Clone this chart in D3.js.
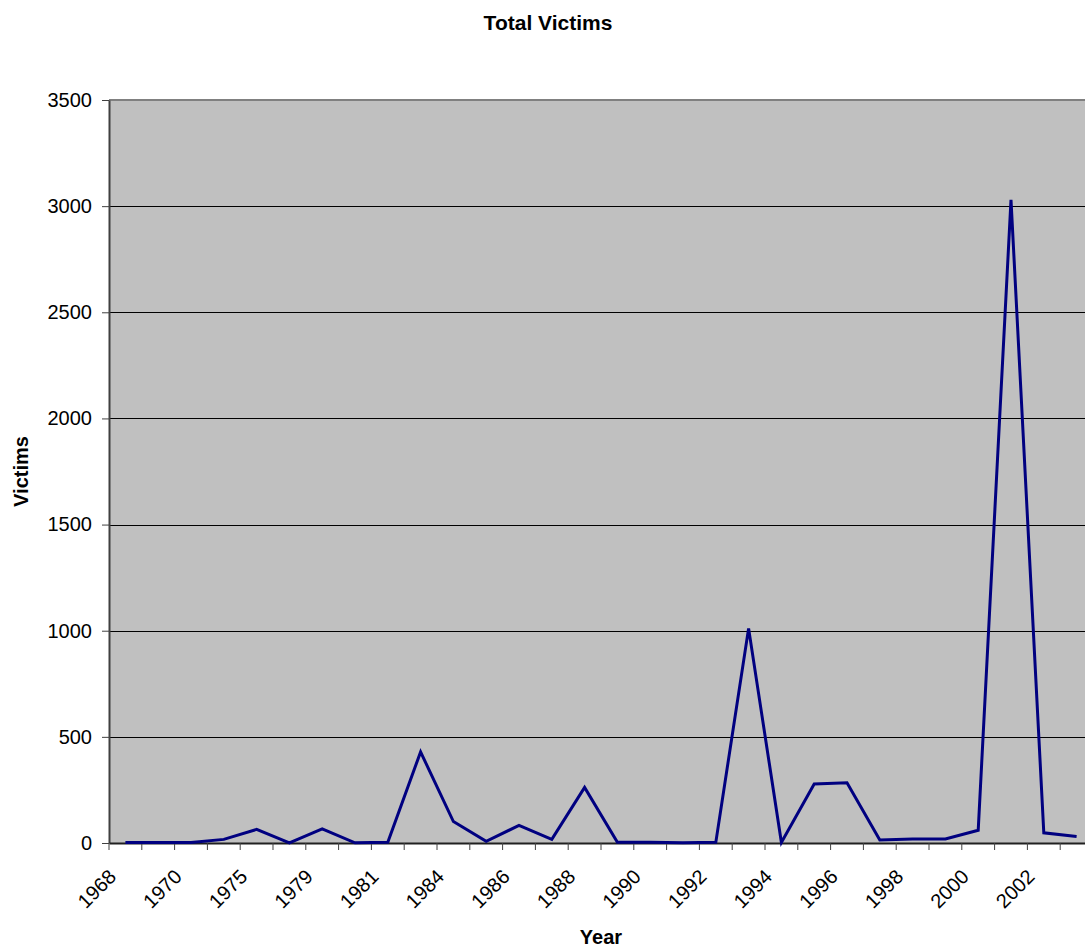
<!DOCTYPE html>
<html>
<head>
<meta charset="utf-8">
<script src="https://cdn.jsdelivr.net/npm/d3@7"></script>
<style>
  html, body { margin: 0; padding: 0; background: #fff; }
  svg { display: block; font-family: "Liberation Sans", Arial, sans-serif; }
</style>
</head>
<body>
<script>
// Years on the category axis
const years = [1968, 1969, 1970, 1973, 1975, 1977, 1979, 1980, 1981, 1983,
               1984, 1985, 1986, 1987, 1988, 1989, 1990, 1991, 1992, 1993,
               1994, 1995, 1996, 1997, 1998, 1999, 2000, 2001, 2002, 2003];
// Total victims per year
const victims = [2, 2, 2, 17, 64, 1, 67, 1, 4, 429,
                 101, 8, 83, 17, 262, 4, 3, 1, 3, 1011,
                 3, 278, 284, 14, 19, 19, 60, 3030, 48, 31];
// Value axis ticks
const yTicks = [0, 500, 1000, 1500, 2000, 2500, 3000, 3500];

const W = 1085, H = 947;
const plot = { left: 109, right: 1093, top: 100, bottom: 843 };

const svg = d3.select("body").append("svg")
  .attr("width", W).attr("height", H);

svg.append("rect").attr("width", W).attr("height", H).attr("fill", "#fff");

const x = d3.scaleBand().domain(years).range([plot.left, plot.right]).padding(0);
const y = d3.scaleLinear().domain([0, 3500]).range([plot.bottom, plot.top]);
const bw = x.bandwidth();

// Plot area
svg.append("rect")
  .attr("x", plot.left).attr("y", plot.top)
  .attr("width", plot.right - plot.left).attr("height", plot.bottom - plot.top)
  .attr("fill", "#c0c0c0");

// Horizontal gridlines
svg.append("g").selectAll("line")
  .data(yTicks.filter(d => d > 0 && d < 3500))
  .join("line")
  .attr("x1", plot.left).attr("x2", plot.right)
  .attr("y1", d => Math.round(y(d)) + 0.5).attr("y2", d => Math.round(y(d)) + 0.5)
  .attr("stroke", "#000").attr("stroke-width", 1);

// Top border of the plot area
svg.append("line")
  .attr("x1", plot.left).attr("x2", plot.right)
  .attr("y1", plot.top).attr("y2", plot.top)
  .attr("stroke", "#808080").attr("stroke-width", 2);

// Y axis
const yAxis = svg.append("g")
  .attr("transform", `translate(${plot.left},0)`)
  .call(d3.axisLeft(y).tickValues(yTicks).tickSize(7).tickSizeOuter(0).tickPadding(10).tickFormat(d3.format("d")));
yAxis.select(".domain").attr("stroke", "#404040").attr("stroke-width", 2);
yAxis.selectAll(".tick line").attr("stroke", "#404040").attr("stroke-width", 1);
yAxis.selectAll(".tick text").attr("font-size", 20).attr("fill", "#000")
  .attr("font-family", "Liberation Sans, Arial, sans-serif");

// X axis with ticks on category boundaries
const xAxis = svg.append("g")
  .attr("transform", `translate(0,${plot.bottom})`)
  .call(d3.axisBottom(x).tickSize(7).tickSizeOuter(0)
    .tickFormat((d, i) => i % 2 === 0 ? String(d) : ""));
xAxis.select(".domain").attr("stroke", "#202020").attr("stroke-width", 2);
xAxis.selectAll(".tick line")
  .attr("x1", -bw / 2).attr("x2", -bw / 2)
  .attr("stroke", "#404040").attr("stroke-width", 1);
xAxis.selectAll(".tick text")
  .attr("font-size", 20).attr("fill", "#000")
  .attr("font-family", "Liberation Sans, Arial, sans-serif")
  .attr("text-anchor", "end")
  .attr("dy", null)
  .attr("y", null)
  .attr("transform", "translate(-8,35) rotate(-45)");
xAxis.append("line")
  .attr("x1", plot.right).attr("x2", plot.right)
  .attr("y1", 0).attr("y2", 7)
  .attr("stroke", "#404040");

// Victims line
const line = d3.line()
  .x((d, i) => x(years[i]) + bw / 2)
  .y(d => y(d));
svg.append("path")
  .datum(victims)
  .attr("d", line)
  .attr("fill", "none")
  .attr("stroke", "#000080")
  .attr("stroke-width", 3)
  .attr("stroke-linejoin", "miter");

// Titles
svg.append("text")
  .attr("x", 548).attr("y", 30)
  .attr("text-anchor", "middle")
  .attr("font-size", 21).attr("font-weight", "bold")
  .text("Total Victims");

svg.append("text")
  .attr("x", (plot.left + plot.right) / 2).attr("y", 944)
  .attr("text-anchor", "middle")
  .attr("font-size", 20).attr("font-weight", "bold")
  .text("Year");

svg.append("text")
  .attr("transform", `translate(28,${(plot.top + plot.bottom) / 2}) rotate(-90)`)
  .attr("text-anchor", "middle")
  .attr("font-size", 20).attr("font-weight", "bold")
  .text("Victims");
</script>
</body>
</html>
